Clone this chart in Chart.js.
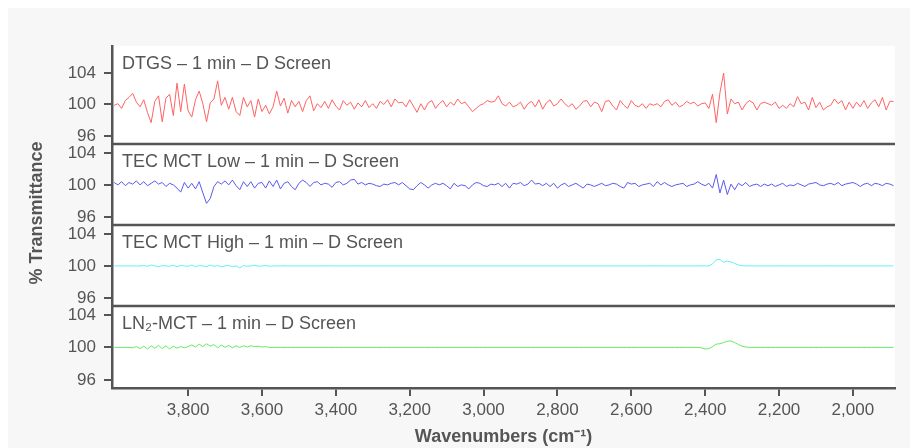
<!DOCTYPE html>
<html lang="en">
<head>
<meta charset="UTF-8">
<title>% Transmittance - detector comparison</title>
<script src="https://cdn.jsdelivr.net/npm/chart.js"></script>
<style>
  html, body { margin: 0; padding: 0; background: #fff; }
  #wrap { position: relative; width: 917px; height: 448px; }
</style>
</head>
<body>
<div id="wrap"><canvas id="spectra" width="917" height="448"></canvas></div>
<script>
// sampling grid of the spectra (cm-1), high to low
const waveStart = 4000;
const waveStep = 10;

const xTicks = [3800, 3600, 3400, 3200, 3000, 2800, 2600, 2400, 2200, 2000];
const yTicks = [96, 100, 104];

const panelLabels = [
  "DTGS – 1 min – D Screen",
  "TEC MCT Low – 1 min – D Screen",
  "TEC MCT High – 1 min – D Screen",
  "LN₂-MCT – 1 min – D Screen"
];

// % transmittance, one value per 10 cm-1 from 4000 down to 1890
const dtgs = [
  99.9,100.1,99.5,100.5,100.9,101.4,100.3,99.7,100.6,99.0,
  97.7,100.4,101.1,97.8,100.8,101.3,98.6,102.7,99.1,102.6,
  99.2,98.4,100.6,101.7,100.1,97.8,100.2,100.7,103.0,99.9,
  100.9,99.4,100.9,99.1,98.6,100.9,99.7,100.5,98.4,100.7,
  99.1,99.9,98.8,99.7,101.7,99.8,100.8,98.9,100.5,99.7,
  100.4,99.1,100.5,101.1,99.2,100.1,99.6,100.4,99.5,100.6,
  99.8,99.3,100.5,99.9,100.3,99.4,100.2,99.7,100.5,99.6,
  100.1,99.5,100.4,100.0,100.6,99.7,100.7,100.2,
  100.3,99.7,100.6,99.8,99.0,100.1,99.3,100.2,100.5,99.5,
  100.1,100.5,99.7,100.3,99.9,100.7,100.1,100.3,99.7,99.1,
  99.5,99.9,100.1,100.5,100.3,100.4,101.1,100.1,99.8,100.3,
  99.7,99.9,100.3,99.4,100.1,100.4,99.7,100.6,99.4,100.2,
  100.6,99.8,100.1,100.7,100.1,99.7,100.1,99.4,99.8,100.4,
  100.5,99.7,100.3,100.1,99.1,100.4,100.5,99.8,99.3,100.5,
  99.9,99.5,100.5,99.9,99.7,100.1,99.5,100.1,99.9,100.1,
  99.7,100.4,100.6,99.9,100.3,99.7,99.9,100.4,100.1,100.3,99.8,
  100.1,100.2,99.5,
  101.3,97.7,101.5,104.0,98.8,
  100.7,100.1,100.3,99.3,100.1,100.5,100.2,99.3,100.1,100.3,
  100.1,99.9,100.3,99.5,99.9,99.5,100.1,99.7,101.0,100.1,
  100.3,99.3,100.9,99.6,100.3,99.3,99.7,99.9,100.7,100.1,
  100.5,99.3,100.3,99.5,100.3,99.7,100.5,99.5,100.2,100.6,
  99.7,100.9,99.3,100.4,100.4
];

const mctLow = [
  100.3,100.0,100.4,99.9,100.3,100.1,100.5,100.0,100.4,99.9,
  100.2,100.5,100.1,100.3,99.8,100.2,100.0,99.6,99.1,100.3,
  99.6,100.2,99.5,100.4,99.0,97.7,98.3,99.8,100.4,100.1,
  100.5,100.0,100.6,99.9,99.4,100.4,99.8,100.4,99.6,100.2,
  100.3,99.6,100.5,99.8,100.6,99.5,100.2,100.4,99.8,99.4,
  100.2,100.6,100.3,99.8,100.3,100.4,100.0,100.2,100.1,99.7,
  100.3,100.4,100.0,100.2,100.6,100.7,100.1,100.3,100.0,100.2,
  100.1,99.9,99.8,100.1,100.0,100.2,100.3,100.0,
  100.3,99.9,99.5,99.4,99.9,100.3,100.0,99.6,100.0,100.2,
  100.0,100.2,99.9,99.5,100.2,99.8,100.0,99.9,99.5,100.0,
  100.3,100.2,99.9,99.8,100.1,100.0,100.2,99.8,100.2,99.6,
  100.2,100.1,100.3,99.9,100.1,100.6,100.1,100.2,99.9,100.2,
  99.8,100.2,99.6,100.0,100.2,99.8,100.0,100.2,99.9,99.6,
  100.1,100.0,99.8,100.0,100.2,99.9,100.0,100.2,100.1,99.8,
  99.6,100.3,100.1,100.2,99.8,100.0,100.1,100.2,99.8,100.4,
  100.0,100.3,100.0,99.8,100.0,100.1,100.2,99.8,100.0,100.1,100.4,
  100.1,99.9,100.2,
  99.6,101.3,99.0,100.6,98.8,
  100.1,99.4,100.2,99.9,100.3,99.8,100.0,100.1,99.8,100.1,
  99.9,100.1,99.8,100.0,100.2,99.8,100.0,99.9,100.2,100.0,
  99.8,100.1,100.2,100.3,100.0,99.9,100.1,100.2,100.0,100.3,
  99.9,100.1,100.2,100.3,100.1,99.8,100.1,100.2,99.9,100.2,
  100.1,99.9,100.2,100.1,99.9
];

const mctHigh = [
  100,100,100,100,100,100,100,100,
  100.05,99.95,100.1,100.0,99.9,100.05,100.0,99.95,100.1,99.9,100.05,100.0,
  99.95,100.1,99.9,100.05,100.0,99.9,100.1,99.95,100.05,99.9,100.0,100.05,
  99.9,100.0,99.75,100.05,99.95,100.0,100.1,99.95,100.0,100.05,99.95,100.0,
  100,100,100.02,100,100,100,100,100,100,100,
  100,100,100,100,100.02,100,100,100,100,100,
  100,100,100,100,100,100,100,100,100,100,
  100,100,100,100,100,100,100,100,100,100,
  100,100,100,100,100,100,100,100,100,100,
  100,100,100,100,100,100,100,100,100,100,
  100,100,100,100,100,100,100,100,100,100,
  100,100,100,100,100,100,100,100,100,100,
  100,100,100,100,100,100,100,100,100,100,
  100,100,100,100,100,100,100,100,100,100,
  100,100,100.02,100,100,100,100,100,100,100,
  100,100,100,100,100,100.02,100,100,
  100.25,100.75,100.8,100.45,100.6,100.5,100.3,100.12,100.03,
  100,100,100,100,100,100,100,100,100,100,
  100,100,100,100,100,100,100,100,100,100,
  100,100,100,100,100,100,100,100,100,100,
  100,100,100,100,100,100,100,100,100,100,
  100
];

const ln2Mct = [
  100,100,100,100,100,
  99.95,100.1,99.85,100.15,99.8,100.2,99.9,100.25,99.85,100.2,99.8,100.15,99.9,100.1,99.95,100.1,
  100.3,100.05,100.4,100.1,100.45,100.15,100.35,99.95,100.3,100.0,100.25,99.95,100.2,100.0,100.2,
  100.05,100.2,100.1,100.15,100.05,100.1,100.0,
  100,100,100,100,100,100,100,100,100,100,
  100,100,100,100,100,100,100,100,100,100,
  100,100,100,100,100,100,100,100,100,100,
  100,100,100,100,100,100,100,100,100,100,
  100,100,100,100,100,100,100,100,100,100,
  100,100,100,100,100,100,100,100,100,100,
  100,100,100,100,100,100,100,100,100,100,
  100,100,100,100,100,100,100,100,100,100,
  100,100,100,100,100,100,100,100,100,100,
  100,100,100,100,100,100,100,100,100,100,
  100,100,100,100,100,100,100,100,100,100,
  100,100,100,100,100,100,
  99.95,99.8,99.85,100.1,100.4,100.45,100.6,100.75,100.8,100.6,100.35,100.15,100.05,
  100,100,100,100,100,100,100,100,100,100,
  100,100,100,100,100,100,100,100,100,100,
  100,100,100,100,100,100,100,100,100,100,
  100,100,100,100,100,100,100,100,100,100
];

const lineColors = ["#ff6363", "#5a5af0", "#62f2f2", "#66ea66"];
const seriesList = [dtgs, mctLow, mctHigh, ln2Mct];

function toPoints(values) {
  return values.map((v, i) => ({ x: waveStart - i * waveStep, y: v }));
}

Chart.defaults.font.family = "'Liberation Sans', Arial, sans-serif";
Chart.defaults.color = "#555";

function panelAxis(weight, min, max) {
  return {
    type: "linear",
    position: "left",
    stack: "panels",
    stackWeight: weight,
    min: min,
    max: max,
    afterBuildTicks: s => { s.ticks = yTicks.map(v => ({ value: v })); },
    afterFit: s => { s.width = 112; },
    grid: { drawOnChartArea: false, drawTicks: true, tickLength: 8, color: "#555", lineWidth: 2 },
    border: { color: "#555", width: 2.5 },
    ticks: { color: "#555", font: { size: 17 }, padding: 8 }
  };
}

const panelDecor = {
  id: "panelDecor",
  beforeDraw(chart) {
    const { ctx, chartArea } = chart;
    ctx.save();
    ctx.fillStyle = "#f7f7f7";
    ctx.fillRect(8, 8, 902, 440);
    ctx.fillStyle = "#fff";
    ctx.fillRect(chartArea.left, chartArea.top, chartArea.right - chartArea.left, chartArea.bottom - chartArea.top);
    ctx.restore();
  },
  afterDraw(chart) {
    const { ctx, chartArea } = chart;
    ctx.save();
    ["p1", "p2", "p3", "p4"].forEach((id, k) => {
      const s = chart.scales[id];
      if (s.top > chartArea.top + 1) {
        ctx.strokeStyle = "#555";
        ctx.lineWidth = 2.5;
        ctx.beginPath();
        ctx.moveTo(chartArea.left, s.top);
        ctx.lineTo(chartArea.right, s.top);
        ctx.stroke();
      }
      ctx.fillStyle = "#555";
      ctx.font = "18px 'Liberation Sans', Arial, sans-serif";
      ctx.textBaseline = "alphabetic";
      ctx.textAlign = "left";
      ctx.fillText(panelLabels[k], chartArea.left + 10, s.top + 22.5);
    });
    ctx.translate(37, 213);
    ctx.rotate(-Math.PI / 2);
    ctx.font = "bold 18px 'Liberation Sans', Arial, sans-serif";
    ctx.textAlign = "center";
    ctx.textBaseline = "middle";
    ctx.fillText("% Transmittance", 0, 0);
    ctx.restore();
  }
};

new Chart(document.getElementById("spectra"), {
  type: "line",
  data: {
    datasets: seriesList.map((vals, k) => ({
      label: panelLabels[k],
      data: toPoints(vals),
      yAxisID: "p" + (k + 1),
      borderColor: lineColors[k],
      borderWidth: 1,
      pointRadius: 0,
      tension: 0,
      fill: false
    }))
  },
  options: {
    responsive: false,
    animation: false,
    layout: { padding: { top: 46, right: 22, left: 0, bottom: 0 } },
    plugins: { legend: { display: false }, tooltip: { enabled: false } },
    scales: {
      x: {
        type: "linear",
        reverse: true,
        min: 1886,
        max: 4006,
        afterBuildTicks: s => { s.ticks = xTicks.map(v => ({ value: v })); },
        afterFit: s => { s.height = 60; },
        grid: { drawOnChartArea: false, drawTicks: true, tickLength: 8, color: "#555", lineWidth: 2 },
        border: { color: "#555", width: 2.5 },
        ticks: { color: "#555", font: { size: 17 }, padding: 4, maxRotation: 0, autoSkip: false },
        title: { display: true, text: "Wavenumbers (cm⁻¹)", color: "#555", font: { size: 18, weight: "bold" }, padding: { top: 0, bottom: 0 } }
      },
      // left-side stacked axes are laid out last-defined on top
      p4: panelAxis(82, 95.0, 105.1),
      p3: panelAxis(81, 95.0, 105.1),
      p2: panelAxis(81, 95.0, 105.1),
      p1: panelAxis(98, 94.98, 107.43)
    }
  },
  plugins: [panelDecor]
});
</script>
</body>
</html>
